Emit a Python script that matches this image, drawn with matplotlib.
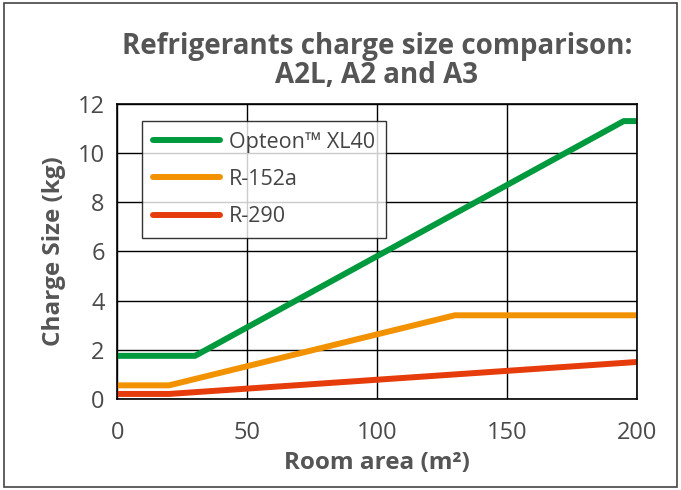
import matplotlib.pyplot as plt
from matplotlib.patches import Rectangle

# data
area_xl40 = [0, 30, 195, 200]
size_xl40 = [1.75, 1.75, 11.3, 11.3]
area_152a = [0, 20, 130, 200]
size_152a = [0.55, 0.55, 3.4, 3.4]
area_290 = [0, 20, 200]
size_290 = [0.2, 0.2, 1.5]

names = ['Opteon\u2122 XL40', 'R-152a', 'R-290']
colors = ['#009a3e', '#f39200', '#e63c0c']
text_col = '#555555'

plt.rcParams['font.family'] = ['Open Sans', 'DejaVu Sans']

fig = plt.figure(figsize=(6.81, 4.90), dpi=100)
ax = fig.add_axes([0.172, 0.186, 0.763, 0.602])

series = [(area_xl40, size_xl40), (area_152a, size_152a), (area_290, size_290)]
for i, (x, y) in enumerate(series):
    ax.plot(x, y, color=colors[i], lw=4.3, label=names[i], solid_capstyle='butt')

ax.set_xlim(0, 200)
ax.set_ylim(0, 12)
ax.set_xticks([0, 50, 100, 150, 200])
ax.set_yticks([0, 2, 4, 6, 8, 10, 12])
ax.grid(True, color='black', lw=1.0)
ax.set_axisbelow(True)
ax.tick_params(length=0, labelsize=17, labelcolor='#4a4a4a')
ax.tick_params(axis='x', pad=16)
ax.tick_params(axis='y', pad=9)
for s in ax.spines.values():
    s.set_color('black')
    s.set_linewidth(1.2)

ax.set_xlabel('Room area (m\u00b2)', fontsize=17.5, fontweight='bold', color=text_col, labelpad=4)
ax.set_ylabel('Charge Size (kg)', fontsize=17.5, fontweight='bold', color=text_col, labelpad=8)
ax.set_title('Refrigerants charge size comparison:\nA2L, A2 and A3', fontsize=20,
             fontweight='bold', color=text_col, pad=15, linespacing=1.0)

leg = ax.legend(loc='upper left', bbox_to_anchor=(0.048, 0.942), borderaxespad=0,
                fontsize=15.5, frameon=True, fancybox=False, edgecolor='black',
                handlelength=3.1, handletextpad=0.45, labelspacing=0.75, borderpad=0.5)
leg.get_frame().set_linewidth(1.0)
for t in leg.get_texts():
    t.set_color('#444444')
for h in leg.legend_handles:
    h.set_solid_capstyle('round')

# outer frame
fig.patches.append(Rectangle((0.006, 0.006), 0.988, 0.988, transform=fig.transFigure,
                             fill=False, edgecolor='#444444', lw=1.2))

fig.savefig('out.png', dpi=100)
